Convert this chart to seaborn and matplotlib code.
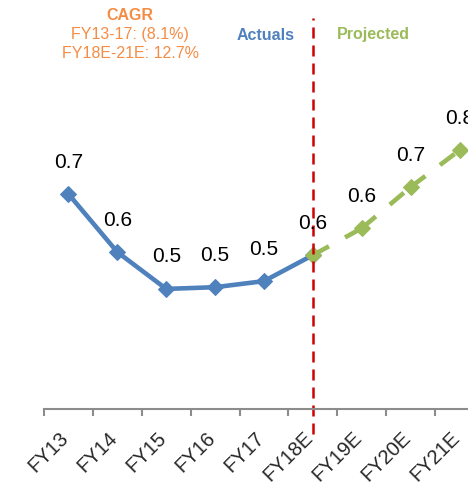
import matplotlib
matplotlib.use("Agg")
import matplotlib.pyplot as plt
import matplotlib.transforms as mtransforms
import seaborn as sns
import pandas as pd

# Fiscal periods and metric values
periods = ["FY13", "FY14", "FY15", "FY16", "FY17", "FY18E", "FY19E", "FY20E", "FY21E"]
actual_periods = ["FY13", "FY14", "FY15", "FY16", "FY17", "FY18E"]
actual_values = [0.696, 0.562, 0.477, 0.481, 0.495, 0.555]
projected_periods = ["FY18E", "FY19E", "FY20E", "FY21E"]
projected_values = [0.555, 0.617, 0.712, 0.797]
data_labels = ["0.7", "0.6", "0.5", "0.5", "0.5", "0.6", "0.6", "0.7", "0.8"]
cagr_lines = ["FY13-17: (8.1%)", "FY18E-21E: 12.7%"]

BLUE = "#4F81BD"
GREEN = "#9BBB59"
ORANGE = "#F58C44"
RED = "#D00000"

sns.set_theme(style="white")
plt.rcParams["font.family"] = ["Liberation Sans", "DejaVu Sans"]

pos = {p: i for i, p in enumerate(periods)}
actual = pd.DataFrame({"x": [pos[p] for p in actual_periods], "value": actual_values})
projected = pd.DataFrame({"x": [pos[p] for p in projected_periods], "value": projected_values})

# Each projected segment is its own line so the dash pattern restarts at every point
seg_rows = []
for k in range(len(projected) - 1):
    for j in (k, k + 1):
        seg_rows.append({"seg": k, "x": projected["x"][j], "value": projected["value"][j]})
segments = pd.DataFrame(seg_rows)

W, H = 468, 495
fig = plt.figure(figsize=(W / 100, H / 100), dpi=100)
ax = fig.add_axes([44 / W, (H - 409) / H, 440 / W, 391 / H])

sns.lineplot(data=actual, x="x", y="value", ax=ax, color=BLUE, linewidth=3.3,
             marker="D", markersize=8.5, markeredgecolor=BLUE)
sns.lineplot(data=segments, x="x", y="value", units="seg", estimator=None,
             ax=ax, color=GREEN, linewidth=3.3, linestyle=(0, (4.0, 4.0)),
             dashes=False, legend=False)
sns.lineplot(data=projected, x="x", y="value", ax=ax, color=GREEN,
             linestyle="none", marker="D", markersize=8.5,
             markeredgecolor=GREEN)

ax.set_xlim(-0.5, len(periods) - 0.5)
ax.set_ylim(0.2, 1.102)
ax.set_xlabel("")
ax.set_ylabel("")
ax.set_yticks([])

# Tick marks sit between categories, labels at category centres
ax.set_xticks([i - 0.5 for i in range(len(periods) + 1)])
ax.set_xticklabels([])
ax.set_xticks(range(len(periods)), minor=True)
ax.set_xticklabels(periods, minor=True, rotation=45, ha="right", va="top",
                   fontsize=14.5)
ax.tick_params(axis="x", which="major", direction="out", length=5, width=1.5,
               color="#8C8C8C", bottom=True)
ax.tick_params(axis="x", which="minor", length=0, pad=14)
shift = mtransforms.ScaledTranslation(4 / 100, 0, fig.dpi_scale_trans)
for lbl in ax.get_xticklabels(minor=True):
    lbl.set_transform(lbl.get_transform() + shift)

for side in ["left", "right", "top"]:
    ax.spines[side].set_visible(False)
ax.spines["bottom"].set_color("#8C8C8C")
ax.spines["bottom"].set_linewidth(1.5)

# Data labels
all_values = actual_values[:-1] + projected_values
for i, (v, t) in enumerate(zip(all_values, data_labels)):
    ax.annotate(t, (i, v), xytext=(0, 23), textcoords="offset points",
                ha="center", va="center", fontsize=15, color="black",
                annotation_clip=False)

# Divider between actuals and projections
ax.axvline(pos["FY18E"], ymin=-0.064, ymax=1.0, color=RED, linewidth=1.8,
           linestyle=(0, (4.4, 2.8)), clip_on=False)

def fx(px):
    return px / W

def fy(py):
    return 1 - py / H

fig.text(fx(130), fy(15), "CAGR", ha="center", va="center", fontsize=11.5,
         fontweight="bold", color=ORANGE)
fig.text(fx(130), fy(35), cagr_lines[0], ha="center", va="center",
         fontsize=11.5, color=ORANGE)
fig.text(fx(130), fy(54), cagr_lines[1], ha="center", va="center",
         fontsize=11.5, color=ORANGE)
fig.text(fx(266), fy(35), "Actuals", ha="center", va="center", fontsize=11.5,
         fontweight="bold", color=BLUE)
fig.text(fx(373), fy(35), "Projected", ha="center", va="center",
         fontsize=11.5, fontweight="bold", color=GREEN)

fig.savefig("out.png", dpi=100)
